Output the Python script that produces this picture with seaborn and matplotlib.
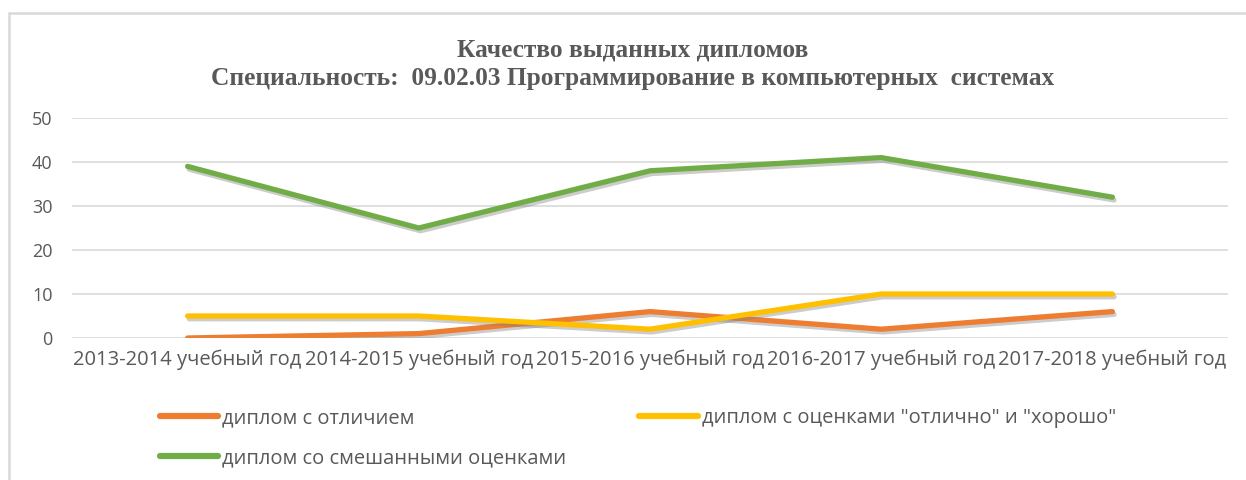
import matplotlib
matplotlib.use("Agg")
import matplotlib.pyplot as plt
import matplotlib.patheffects as pe
from matplotlib.lines import Line2D
import seaborn as sns
import pandas as pd

categories = ["2013-2014 учебный год", "2014-2015 учебный год", "2015-2016 учебный год",
              "2016-2017 учебный год", "2017-2018 учебный год"]
series_names = ["диплом с отличием", "диплом с оценками \"отлично\" и \"хорошо\"",
                "диплом со смешанными оценками"]
honors = [0, 1, 6, 2, 6]
good = [5, 5, 2, 10, 10]
mixed = [39, 25, 38, 41, 32]
colors = ["#ED7D31", "#FFC000", "#70AD47"]
yticks = [0, 10, 20, 30, 40, 50]
title = "Качество выданных дипломов\nСпециальность:  09.02.03 Программирование в компьютерных  системах"

sns.set_style("white")
plt.rcParams['font.family'] = ['Open Sans', 'DejaVu Sans']

rows = []
for name, vals in zip(series_names, [honors, good, mixed]):
    for i, v in enumerate(vals):
        rows.append({"x": i, "value": v, "series": name})
df = pd.DataFrame(rows)

fig = plt.figure(figsize=(12.46, 4.8), dpi=100)
ax = fig.add_axes([72/1246, 1-338/480, (1228-72)/1246, 220/480])

sns.lineplot(data=df, x="x", y="value", hue="series", palette=dict(zip(series_names, colors)),
             hue_order=series_names, linewidth=3.8, ax=ax, legend=False,
             path_effects=[pe.SimpleLineShadow(offset=(1.2, -2.0), alpha=0.4, shadow_color='#808080'), pe.Normal()])
for l in ax.lines:
    l.set_solid_capstyle('round')
    l.set_solid_joinstyle('round')

ax.set_xlim(-0.5, 4.5)
ax.set_ylim(0, 50)
ax.set_yticks(yticks)
ax.set_xticks(range(len(categories)))
ax.set_xticklabels(categories)
ax.yaxis.grid(True, color="#d9d9d9", linewidth=1.2)
ax.set_axisbelow(True)
for s in ax.spines.values():
    s.set_visible(False)
ax.tick_params(axis='y', length=0, labelsize=13, labelcolor="#595959", pad=14)
ax.tick_params(axis='x', length=0, labelsize=14.5, labelcolor="#595959", pad=8)
ax.set_xlabel("")
ax.set_ylabel("")

fig.text(0.508, 0.92, title, ha='center', va='top', fontsize=18.3, fontweight='bold',
         family='Liberation Serif', color="#595959", linespacing=1.3)

# legend
order = [0, 2, 1]
handles = [Line2D([0], [0], color=colors[i], linewidth=4.5, solid_capstyle='round') for i in order]
labels = [series_names[i] for i in order]
leg = fig.legend(handles, labels, ncol=2, loc='upper left', bbox_to_anchor=(152/1246, 1-400/480),
                 frameon=False, fontsize=14.5, handlelength=2.9, handletextpad=0.2,
                 columnspacing=3.6, labelspacing=1.0, labelcolor="#595959", borderaxespad=0)

# chart border (top & left)
fig.add_artist(Line2D([9/1246, 9/1246], [0, 1-13/480], color="#d9d9d9", linewidth=1.8, transform=fig.transFigure))
fig.add_artist(Line2D([9/1246, 1245/1246], [1-13/480, 1-13/480], color="#d9d9d9", linewidth=1.8, transform=fig.transFigure))

fig.savefig("out.png", dpi=100)
